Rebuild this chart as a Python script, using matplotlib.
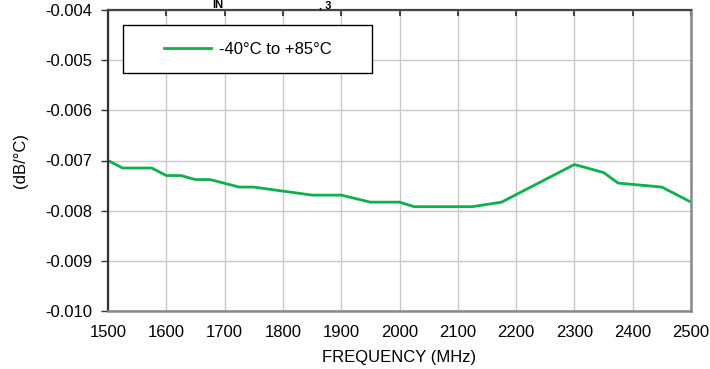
import matplotlib
matplotlib.use("Agg")
import matplotlib.pyplot as plt
import numpy as np

plt.rcParams['font.family'] = ['Liberation Sans', 'DejaVu Sans']

# frequency (MHz) and temperature coefficient (dB/degC)
freq = [1500, 1525, 1575, 1600, 1625, 1650, 1675, 1725, 1750, 1800, 1850,
        1900, 1950, 2000, 2025, 2125, 2175, 2300, 2350, 2375, 2450, 2500]
coef = [-0.00700, -0.00715, -0.00715, -0.00730, -0.00730, -0.00738, -0.00738,
        -0.00753, -0.00753, -0.00761, -0.00769, -0.00769, -0.00783, -0.00783,
        -0.00792, -0.00792, -0.00783, -0.00708, -0.00724, -0.00745, -0.00753,
        -0.00783]
series_label = "-40°C to +85°C"
xticks = np.arange(1500, 2501, 100)
yticks = [-0.010, -0.009, -0.008, -0.007, -0.006, -0.005, -0.004]

fig = plt.figure(figsize=(7.1, 3.69), dpi=100)
ax = fig.add_axes([108 / 710, 1 - 311 / 369, 583 / 710, 301 / 369])

ax.plot(freq, coef, color="#0db14b", lw=2.0, label=series_label)

ax.set_xlim(1500, 2500)
ax.set_ylim(-0.010, -0.004)
ax.set_xticks(xticks)
ax.set_yticks(yticks)
ax.set_yticklabels(["%.3f" % v for v in yticks])
ax.grid(True, color="#c8c8c8", lw=1.0)
ax.set_axisbelow(True)

ax.tick_params(axis='y', direction='out', length=5, width=1, color="#333333",
               labelsize=12, pad=6.5)
ax.tick_params(axis='x', direction='in', length=4, width=1.2, color="#222222",
               labelsize=12, bottom=False, top=True, labelbottom=True, pad=10)

ax.spines['left'].set_color("#333333")
ax.spines['left'].set_linewidth(1.6)
ax.spines['top'].set_color("#444444")
ax.spines['top'].set_linewidth(1.6)
ax.spines['right'].set_color("#888888")
ax.spines['right'].set_linewidth(1.8)
ax.spines['bottom'].set_color("#888888")
ax.spines['bottom'].set_linewidth(1.8)

ax.set_xlabel("FREQUENCY (MHz)", fontsize=12, labelpad=7)
ax.set_ylabel("(dB/°C)", fontsize=12, labelpad=12)

leg = ax.legend(loc='upper left', bbox_to_anchor=(0.026, 0.95), fontsize=12,
                frameon=True, fancybox=False, borderpad=1.0, handlelength=2.8,
                borderaxespad=0, handletextpad=0.45)
leg.get_frame().set_edgecolor("black")
leg.get_frame().set_linewidth(1.0)
leg.get_frame().set_facecolor("white")
leg.get_frame().set_alpha(1)
# widen the legend box to match the reference
leg._legend_box.set_width(216)

# remnants of the cut-off title at the top edge
fig.text(218 / 710, 1.0, "IN", fontsize=8, weight='bold', va='top', ha='center')
fig.text(319 / 710, 1.0, ", 3", fontsize=8, weight='bold', va='top', ha='left')

fig.savefig("out.png", dpi=100)
